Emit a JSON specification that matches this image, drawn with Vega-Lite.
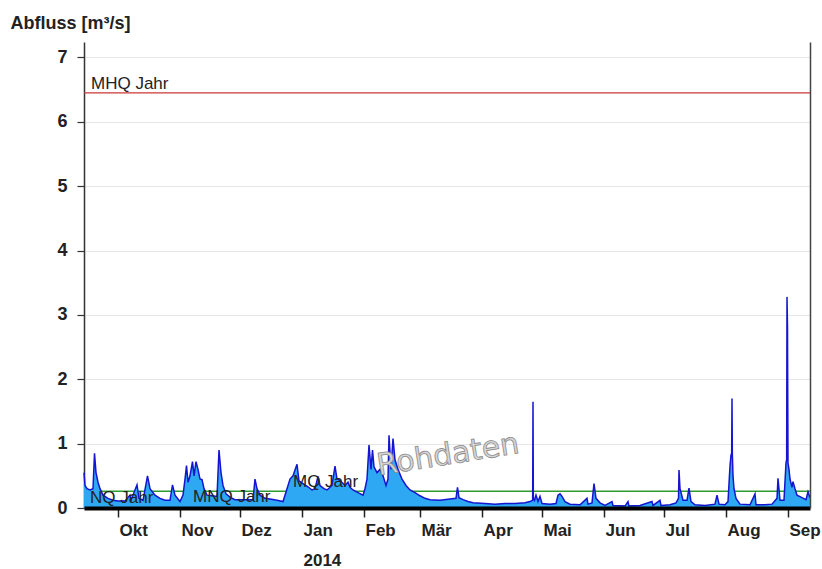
{
  "$schema": "https://vega.github.io/schema/vega-lite/v6.json",
  "width": 726,
  "height": 466,
  "autosize": "none",
  "padding": {"left": 84, "top": 42, "right": 12, "bottom": 61},
  "background": "white",
  "config": {"view": {"stroke": null}, "font": "Liberation Sans"},
  "datasets": {
    "refs": [
      {"name": "MHQ Jahr", "q": 6.45, "lx": "2013-09-17T12:00"},
      {"name": "MQ Jahr", "q": 0.26, "lx": "2013-12-27T12:00"},
      {"name": "MNQ Jahr", "q": 0.03, "lx": "2013-11-07T12:00"},
      {"name": "NQ Jahr", "q": 0.02, "lx": "2013-09-17T00:00"}
    ],
    "stamp": [{"label": "Rohdaten", "t": "2014-03-15T00:00", "q": 0.82}],
    "flow": [
      {"t": "2013-09-14T00:00", "q": 0.55},
      {"t": "2013-09-14T12:00", "q": 0.35},
      {"t": "2013-09-15T12:00", "q": 0.3},
      {"t": "2013-09-17T00:00", "q": 0.28},
      {"t": "2013-09-18T12:00", "q": 0.3},
      {"t": "2013-09-19T06:00", "q": 0.85},
      {"t": "2013-09-20T00:00", "q": 0.55},
      {"t": "2013-09-21T00:00", "q": 0.4},
      {"t": "2013-09-22T00:00", "q": 0.3},
      {"t": "2013-09-23T12:00", "q": 0.2},
      {"t": "2013-09-26T00:00", "q": 0.15},
      {"t": "2013-09-28T12:00", "q": 0.12},
      {"t": "2013-10-01T00:00", "q": 0.11},
      {"t": "2013-10-04T12:00", "q": 0.11},
      {"t": "2013-10-07T00:00", "q": 0.2},
      {"t": "2013-10-07T12:00", "q": 0.12},
      {"t": "2013-10-10T12:00", "q": 0.36},
      {"t": "2013-10-11T12:00", "q": 0.15},
      {"t": "2013-10-13T12:00", "q": 0.12},
      {"t": "2013-10-15T18:00", "q": 0.5},
      {"t": "2013-10-17T00:00", "q": 0.3},
      {"t": "2013-10-19T12:00", "q": 0.2},
      {"t": "2013-10-22T00:00", "q": 0.15},
      {"t": "2013-10-24T12:00", "q": 0.12},
      {"t": "2013-10-27T00:00", "q": 0.12},
      {"t": "2013-10-28T06:00", "q": 0.36},
      {"t": "2013-10-29T12:00", "q": 0.2},
      {"t": "2013-11-01T00:00", "q": 0.1},
      {"t": "2013-11-02T12:00", "q": 0.2},
      {"t": "2013-11-03T12:00", "q": 0.45},
      {"t": "2013-11-04T06:00", "q": 0.66},
      {"t": "2013-11-05T00:00", "q": 0.4},
      {"t": "2013-11-06T00:00", "q": 0.5},
      {"t": "2013-11-07T06:00", "q": 0.72},
      {"t": "2013-11-08T00:00", "q": 0.5},
      {"t": "2013-11-09T00:00", "q": 0.72},
      {"t": "2013-11-10T00:00", "q": 0.6},
      {"t": "2013-11-11T00:00", "q": 0.45},
      {"t": "2013-11-12T00:00", "q": 0.44},
      {"t": "2013-11-13T00:00", "q": 0.3},
      {"t": "2013-11-14T12:00", "q": 0.2},
      {"t": "2013-11-17T00:00", "q": 0.19},
      {"t": "2013-11-19T12:00", "q": 0.18},
      {"t": "2013-11-20T12:00", "q": 0.9},
      {"t": "2013-11-21T12:00", "q": 0.55},
      {"t": "2013-11-22T12:00", "q": 0.35},
      {"t": "2013-11-24T00:00", "q": 0.22},
      {"t": "2013-11-26T00:00", "q": 0.17},
      {"t": "2013-11-28T12:00", "q": 0.13},
      {"t": "2013-12-03T12:00", "q": 0.13},
      {"t": "2013-12-07T12:00", "q": 0.13},
      {"t": "2013-12-08T12:00", "q": 0.45},
      {"t": "2013-12-09T12:00", "q": 0.3},
      {"t": "2013-12-11T00:00", "q": 0.2},
      {"t": "2013-12-13T12:00", "q": 0.15},
      {"t": "2013-12-16T00:00", "q": 0.14},
      {"t": "2013-12-19T12:00", "q": 0.12},
      {"t": "2013-12-22T12:00", "q": 0.1},
      {"t": "2013-12-24T00:00", "q": 0.25},
      {"t": "2013-12-26T00:00", "q": 0.45},
      {"t": "2013-12-27T12:00", "q": 0.5},
      {"t": "2013-12-29T12:00", "q": 0.68},
      {"t": "2013-12-30T12:00", "q": 0.42},
      {"t": "2014-01-01T12:00", "q": 0.38},
      {"t": "2014-01-04T00:00", "q": 0.33},
      {"t": "2014-01-06T00:00", "q": 0.28},
      {"t": "2014-01-07T12:00", "q": 0.3},
      {"t": "2014-01-09T00:00", "q": 0.49},
      {"t": "2014-01-10T00:00", "q": 0.35},
      {"t": "2014-01-12T00:00", "q": 0.3},
      {"t": "2014-01-13T12:00", "q": 0.28},
      {"t": "2014-01-16T00:00", "q": 0.35},
      {"t": "2014-01-17T12:00", "q": 0.65},
      {"t": "2014-01-18T12:00", "q": 0.45},
      {"t": "2014-01-20T00:00", "q": 0.43},
      {"t": "2014-01-22T12:00", "q": 0.35},
      {"t": "2014-01-24T00:00", "q": 0.4},
      {"t": "2014-01-25T00:00", "q": 0.32},
      {"t": "2014-01-26T12:00", "q": 0.28},
      {"t": "2014-01-29T00:00", "q": 0.24},
      {"t": "2014-01-31T12:00", "q": 0.2},
      {"t": "2014-02-01T12:00", "q": 0.3},
      {"t": "2014-02-02T12:00", "q": 0.45},
      {"t": "2014-02-03T12:00", "q": 0.98},
      {"t": "2014-02-04T12:00", "q": 0.6},
      {"t": "2014-02-05T06:00", "q": 0.9},
      {"t": "2014-02-06T00:00", "q": 0.64},
      {"t": "2014-02-07T12:00", "q": 0.55},
      {"t": "2014-02-09T00:00", "q": 0.6},
      {"t": "2014-02-10T12:00", "q": 0.5},
      {"t": "2014-02-12T00:00", "q": 0.35},
      {"t": "2014-02-13T00:00", "q": 0.45},
      {"t": "2014-02-13T12:00", "q": 1.13},
      {"t": "2014-02-14T12:00", "q": 0.6},
      {"t": "2014-02-15T12:00", "q": 1.08},
      {"t": "2014-02-16T12:00", "q": 0.75},
      {"t": "2014-02-18T00:00", "q": 0.6},
      {"t": "2014-02-20T00:00", "q": 0.45},
      {"t": "2014-02-22T00:00", "q": 0.35},
      {"t": "2014-02-24T00:00", "q": 0.28},
      {"t": "2014-02-26T12:00", "q": 0.24},
      {"t": "2014-03-01T00:00", "q": 0.19},
      {"t": "2014-03-03T12:00", "q": 0.15},
      {"t": "2014-03-06T00:00", "q": 0.13},
      {"t": "2014-03-11T00:00", "q": 0.12},
      {"t": "2014-03-16T00:00", "q": 0.14},
      {"t": "2014-03-19T00:00", "q": 0.15},
      {"t": "2014-03-19T18:00", "q": 0.32},
      {"t": "2014-03-20T12:00", "q": 0.16},
      {"t": "2014-03-22T12:00", "q": 0.13},
      {"t": "2014-03-25T00:00", "q": 0.1},
      {"t": "2014-03-27T12:00", "q": 0.08},
      {"t": "2014-04-02T12:00", "q": 0.07},
      {"t": "2014-04-07T12:00", "q": 0.06},
      {"t": "2014-04-12T12:00", "q": 0.07},
      {"t": "2014-04-17T12:00", "q": 0.07},
      {"t": "2014-04-22T12:00", "q": 0.08},
      {"t": "2014-04-25T00:00", "q": 0.1},
      {"t": "2014-04-26T08:00", "q": 0.12},
      {"t": "2014-04-26T12:00", "q": 1.65},
      {"t": "2014-04-26T16:00", "q": 0.15},
      {"t": "2014-04-27T06:00", "q": 0.12},
      {"t": "2014-04-28T00:00", "q": 0.2},
      {"t": "2014-04-29T00:00", "q": 0.1},
      {"t": "2014-04-30T00:00", "q": 0.18},
      {"t": "2014-05-01T00:00", "q": 0.07},
      {"t": "2014-05-05T00:00", "q": 0.06},
      {"t": "2014-05-08T00:00", "q": 0.07},
      {"t": "2014-05-09T00:00", "q": 0.2},
      {"t": "2014-05-10T00:00", "q": 0.22},
      {"t": "2014-05-11T00:00", "q": 0.18},
      {"t": "2014-05-12T12:00", "q": 0.1},
      {"t": "2014-05-15T00:00", "q": 0.06},
      {"t": "2014-05-20T00:00", "q": 0.05},
      {"t": "2014-05-23T12:00", "q": 0.15},
      {"t": "2014-05-24T00:00", "q": 0.06},
      {"t": "2014-05-26T00:00", "q": 0.08},
      {"t": "2014-05-27T00:00", "q": 0.38},
      {"t": "2014-05-28T00:00", "q": 0.15},
      {"t": "2014-05-30T00:00", "q": 0.08},
      {"t": "2014-06-01T12:00", "q": 0.04},
      {"t": "2014-06-05T00:00", "q": 0.1},
      {"t": "2014-06-05T12:00", "q": 0.04},
      {"t": "2014-06-11T12:00", "q": 0.03},
      {"t": "2014-06-13T00:00", "q": 0.1},
      {"t": "2014-06-13T12:00", "q": 0.03},
      {"t": "2014-06-19T00:00", "q": 0.04},
      {"t": "2014-06-25T00:00", "q": 0.1},
      {"t": "2014-06-25T12:00", "q": 0.04},
      {"t": "2014-06-29T00:00", "q": 0.12},
      {"t": "2014-06-29T12:00", "q": 0.04},
      {"t": "2014-07-04T00:00", "q": 0.05},
      {"t": "2014-07-07T00:00", "q": 0.08},
      {"t": "2014-07-08T06:00", "q": 0.15},
      {"t": "2014-07-08T12:00", "q": 0.59},
      {"t": "2014-07-09T00:00", "q": 0.3},
      {"t": "2014-07-10T12:00", "q": 0.12},
      {"t": "2014-07-12T12:00", "q": 0.12},
      {"t": "2014-07-13T12:00", "q": 0.31},
      {"t": "2014-07-14T12:00", "q": 0.1},
      {"t": "2014-07-16T12:00", "q": 0.05},
      {"t": "2014-07-21T12:00", "q": 0.04},
      {"t": "2014-07-26T12:00", "q": 0.06},
      {"t": "2014-07-27T12:00", "q": 0.2},
      {"t": "2014-07-28T12:00", "q": 0.06},
      {"t": "2014-07-31T12:00", "q": 0.05},
      {"t": "2014-08-02T00:00", "q": 0.1},
      {"t": "2014-08-03T00:00", "q": 0.65},
      {"t": "2014-08-03T12:00", "q": 0.82},
      {"t": "2014-08-03T20:00", "q": 0.85},
      {"t": "2014-08-04T00:00", "q": 1.7},
      {"t": "2014-08-04T04:00", "q": 0.85},
      {"t": "2014-08-04T12:00", "q": 0.5},
      {"t": "2014-08-05T00:00", "q": 0.3},
      {"t": "2014-08-06T00:00", "q": 0.15},
      {"t": "2014-08-08T00:00", "q": 0.06},
      {"t": "2014-08-13T00:00", "q": 0.05},
      {"t": "2014-08-15T12:00", "q": 0.22},
      {"t": "2014-08-16T00:00", "q": 0.05},
      {"t": "2014-08-20T12:00", "q": 0.05},
      {"t": "2014-08-24T00:00", "q": 0.06},
      {"t": "2014-08-26T12:00", "q": 0.15},
      {"t": "2014-08-27T00:00", "q": 0.46},
      {"t": "2014-08-28T00:00", "q": 0.12},
      {"t": "2014-08-30T00:00", "q": 0.12},
      {"t": "2014-08-31T00:00", "q": 0.7},
      {"t": "2014-08-31T08:00", "q": 0.75},
      {"t": "2014-08-31T12:00", "q": 3.28},
      {"t": "2014-08-31T18:00", "q": 2.81},
      {"t": "2014-09-01T00:00", "q": 0.7},
      {"t": "2014-09-01T12:00", "q": 0.6},
      {"t": "2014-09-02T00:00", "q": 0.45},
      {"t": "2014-09-03T00:00", "q": 0.32},
      {"t": "2014-09-03T12:00", "q": 0.41},
      {"t": "2014-09-04T12:00", "q": 0.3},
      {"t": "2014-09-05T12:00", "q": 0.2},
      {"t": "2014-09-08T00:00", "q": 0.16},
      {"t": "2014-09-10T00:00", "q": 0.13},
      {"t": "2014-09-11T00:00", "q": 0.25},
      {"t": "2014-09-12T00:00", "q": 0.16}
    ]
  },
  "layer": [
    {
      "data": {"name": "refs"},
      "mark": {"type": "rule", "strokeWidth": 1.3},
      "encoding": {
        "y": {"field": "q", "type": "quantitative", "scale": {"domain": [0, 7.24], "nice": false}, "axis": null},
        "color": {"field": "name", "type": "nominal", "legend": null,
          "scale": {"domain": ["MHQ Jahr", "MQ Jahr", "MNQ Jahr", "NQ Jahr"], "range": ["#cc3636", "#2f9a2f", "#111111", "#111111"]}}
      }
    },
    {
      "data": {"name": "flow"},
      "mark": {"type": "area", "color": "#2ea8f2", "opacity": 1},
      "encoding": {
        "x": {"field": "t", "type": "temporal",
          "scale": {"domain": [{"year": 2013, "month": 9, "date": 14}, {"year": 2014, "month": 9, "date": 12}], "nice": false},
          "axis": {
            "values": [
              {"year": 2013, "month": 10, "date": 1}, {"year": 2013, "month": 11, "date": 1}, {"year": 2013, "month": 12, "date": 1},
              {"year": 2014, "month": 1, "date": 1}, {"year": 2014, "month": 2, "date": 1}, {"year": 2014, "month": 3, "date": 1},
              {"year": 2014, "month": 4, "date": 1}, {"year": 2014, "month": 5, "date": 1}, {"year": 2014, "month": 6, "date": 1},
              {"year": 2014, "month": 7, "date": 1}, {"year": 2014, "month": 8, "date": 1}, {"year": 2014, "month": 9, "date": 1}
            ],
            "labelExpr": "month(datum.value) == 0 ? ['Jan', '2014'] : ['Jan','Feb','Mär','Apr','Mai','Jun','Jul','Aug','Sep','Okt','Nov','Dez'][month(datum.value)]",
            "labelAlign": "left",
            "labelBaseline": "top",
            "labelFlush": false,
            "labelOverlap": false,
            "labelBound": false,
            "labelFont": "Liberation Sans",
            "labelFontSize": 17,
            "labelFontWeight": "bold",
            "labelColor": "#222222",
            "labelPadding": 5,
            "labelOffset": 1,
            "labelLineHeight": 30,
            "tickSize": 9,
            "tickColor": "#222222",
            "tickWidth": 1.5,
            "domainColor": "#000000",
            "domainWidth": 4,
            "grid": false,
            "title": null,
            "zindex": 1
          }
        },
        "y": {"field": "q", "type": "quantitative", "scale": {"domain": [0, 7.24], "nice": false},
          "axis": {
            "values": [0, 1, 2, 3, 4, 5, 6, 7],
            "labelFont": "Liberation Sans",
            "labelFontSize": 18,
            "labelFontWeight": "bold",
            "labelColor": "#222222",
            "labelPadding": 10,
            "tickSize": 7,
            "tickColor": "#333333",
            "tickWidth": 1.2,
            "domainColor": "#333333",
            "domainWidth": 1.5,
            "grid": true,
            "gridColor": "#e6e6e6",
            "gridWidth": 1,
            "title": "Abfluss [m³/s]",
            "titleAngle": 0,
            "titleAlign": "left",
            "titleBaseline": "alphabetic",
            "titleX": -74,
            "titleY": -14,
            "titleFont": "Liberation Sans",
            "titleFontSize": 18,
            "titleFontWeight": "bold",
            "titleColor": "#222222"
          }
        }
      }
    },
    {
      "data": {"name": "flow"},
      "mark": {"type": "line", "color": "#1515d0", "strokeWidth": 1.5},
      "encoding": {
        "x": {"field": "t", "type": "temporal"},
        "y": {"field": "q", "type": "quantitative",
          "axis": {"orient": "right", "labels": false, "ticks": false, "grid": false, "title": null, "domainColor": "#444444", "domainWidth": 1.5, "zindex": 1}}
      }
    },
    {
      "data": {"name": "refs"},
      "mark": {"type": "text", "align": "left", "baseline": "alphabetic", "dy": -4, "font": "Liberation Sans", "fontSize": 17, "color": "#222222"},
      "encoding": {
        "x": {"field": "lx", "type": "temporal"},
        "y": {"field": "q", "type": "quantitative", "axis": null},
        "text": {"field": "name"}
      }
    },
    {
      "data": {"name": "stamp"},
      "mark": {"type": "text", "align": "center", "baseline": "middle", "angle": 351, "font": "DejaVu Sans", "fontSize": 30, "fill": "#d6d6d6", "stroke": "#8a8a8a", "strokeWidth": 0.8},
      "encoding": {
        "x": {"field": "t", "type": "temporal"},
        "y": {"field": "q", "type": "quantitative", "axis": null},
        "text": {"field": "label"}
      }
    }
  ],
  "resolve": {"axis": {"y": "independent"}}
}
